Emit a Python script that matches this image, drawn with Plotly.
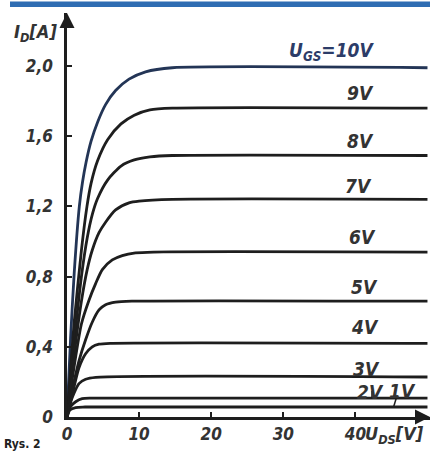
import plotly.graph_objects as go

# ---- data ----
v_10 = [0, 0.5, 1.0, 1.71, 2.16, 2.64, 3.33, 4.24, 5.35, 6.74, 8.6, 10.9, 14.6, 50]
i_10 = [0, 0.45, 0.82, 1.20, 1.34, 1.45, 1.57, 1.68, 1.78, 1.86, 1.925, 1.967, 1.99, 1.99]

v_9 = [0, 0.5, 1.0, 2.0, 2.77, 3.33, 4.24, 5.63, 7.49, 9.33, 11.5, 14.6, 50]
i_9 = [0, 0.28, 0.54, 0.95, 1.20, 1.33, 1.46, 1.58, 1.67, 1.72, 1.75, 1.76, 1.76]

v_8 = [0, 0.5, 1.0, 2.0, 2.8, 3.55, 4.24, 5.63, 7.49, 9.33, 11.5, 14.6, 50]
i_8 = [0, 0.22, 0.43, 0.80, 1.02, 1.16, 1.245, 1.35, 1.43, 1.465, 1.482, 1.49, 1.49]

v_7 = [0, 0.5, 1.0, 2.0, 2.8, 3.5, 4.44, 5.35, 6.74, 8.6, 10, 14.6, 50]
i_7 = [0, 0.18, 0.36, 0.66, 0.84, 0.95, 1.05, 1.11, 1.18, 1.22, 1.23, 1.24, 1.24]

v_6 = [0, 0.5, 1.0, 2.0, 3.0, 3.97, 4.9, 6.28, 7.67, 9.5, 12, 50]
i_6 = [0, 0.15, 0.29, 0.53, 0.66, 0.76, 0.84, 0.895, 0.92, 0.935, 0.94, 0.94]

v_5 = [0, 0.5, 0.97, 1.66, 2.58, 3.5, 4.44, 5.35, 6.74, 9, 50]
i_5 = [0, 0.11, 0.20, 0.32, 0.44, 0.54, 0.61, 0.64, 0.655, 0.66, 0.66]

v_4 = [0, 0.5, 0.97, 1.66, 2.58, 3.5, 4.44, 6, 50]
i_4 = [0, 0.09, 0.17, 0.28, 0.36, 0.40, 0.415, 0.42, 0.42]

v_3 = [0, 0.4, 0.97, 1.66, 2.58, 4.0, 50]
i_3 = [0, 0.07, 0.135, 0.19, 0.215, 0.226, 0.228]

v_2 = [0, 0.5, 1.2, 2.1, 3.5, 50]
i_2 = [0, 0.06, 0.087, 0.105, 0.108, 0.108]

v_1 = [0, 0.4, 1.2, 2.5, 50]
i_1 = [0, 0.04, 0.054, 0.057, 0.057]

series = [
    ("10V", v_10, i_10),
    ("9V", v_9, i_9),
    ("8V", v_8, i_8),
    ("7V", v_7, i_7),
    ("6V", v_6, i_6),
    ("5V", v_5, i_5),
    ("4V", v_4, i_4),
    ("3V", v_3, i_3),
    ("2V", v_2, i_2),
    ("1V", v_1, i_1),
]

x_ticks = [0, 10, 20, 30, 40]
x_ticktext = ["0", "10", "20", "30", "40"]
y_ticks = [0, 0.4, 0.8, 1.2, 1.6, 2.0]
y_ticktext = ["0", "0,4", "0,8", "1,2", "1,6", "2,0"]

label_texts = ["U<sub>GS</sub>=10V", "9V", "8V", "7V", "6V", "5V", "4V", "3V", "2V", "1V"]
label_x = [36.7, 40.7, 40.7, 40.5, 41.0, 41.2, 41.4, 41.6, 42.1, 46.5]
label_y = [2.085, 1.846, 1.573, 1.316, 1.026, 0.741, 0.513, 0.274, 0.142, 0.148]

FONT = "Liberation Sans Narrow, DejaVu Sans Condensed, Liberation Sans, sans-serif"
INK = "#1e1e1e"
TEXT = "#333333"

fig = go.Figure()
for name, xs, ys in series:
    fig.add_trace(go.Scatter(
        x=xs, y=ys, mode="lines", name=name,
        line=dict(color="#233556" if name == "10V" else INK, width=2.8,
                  shape="spline", smoothing=0.7),
        hoverinfo="skip", showlegend=False,
    ))

annotations = []
for t, lx, ly in zip(label_texts, label_x, label_y):
    annotations.append(dict(
        x=lx, y=ly, xref="x", yref="y", text=t, showarrow=False,
        font=dict(family=FONT, size=19, color="#2c3c68" if "GS" in t else TEXT,
                  style="italic", weight="bold"),
    ))

# axis titles (paper coordinates, outside the data range)
annotations.append(dict(x=-0.1515, y=0.985, xref="paper", yref="paper", text="I<sub>D</sub>[A]",
                        showarrow=False, xanchor="left", yanchor="top",
                        font=dict(family=FONT, size=18, color=TEXT, style="italic", weight="bold")))
annotations.append(dict(x=0.815, y=-0.0099, xref="paper", yref="paper", text="U<sub>DS</sub>[V]",
                        showarrow=False, xanchor="left", yanchor="top",
                        font=dict(family=FONT, size=18, color=TEXT, style="italic", weight="bold")))
annotations.append(dict(x=-0.179, y=-0.067, xref="paper", yref="paper", text="Rys. 2",
                        showarrow=False, xanchor="left", yanchor="middle",
                        font=dict(family=FONT, size=12, color="#222222", weight="bold")))

# axis arrowheads
annotations.append(dict(x=50.35, y=0, xref="x", yref="y", ax=-14, ay=0, text="",
                        showarrow=True, arrowhead=2, arrowsize=1.2, arrowwidth=2.5,
                        arrowcolor=INK))
annotations.append(dict(x=0, y=2.302, xref="x", yref="y", ax=0, ay=16, text="",
                        showarrow=True, arrowhead=2, arrowsize=1.2, arrowwidth=2.5,
                        arrowcolor=INK))

shapes = [
    # leader lines for 2V and 1V labels
    dict(type="line", xref="x", yref="y", x0=42.3, y0=0.15, x1=42.3, y1=0.108,
         line=dict(color=INK, width=1.5)),
    dict(type="line", xref="x", yref="y", x0=45.8, y0=0.125, x1=45.3, y1=0.057,
         line=dict(color=INK, width=1.5)),
    # blue border strip at the top of the scan
    dict(type="rect", xref="paper", yref="paper", x0=-0.157, x1=1.0, y0=1.0149, y1=1.0285,
         fillcolor="#2f6db3", line=dict(width=0)),
]

axis_font = dict(family=FONT, size=17, color=TEXT, style="italic", weight="bold")

fig.update_layout(
    width=432, height=455,
    margin=dict(l=67, r=2, t=13, b=38),
    paper_bgcolor="white", plot_bgcolor="white",
    xaxis=dict(range=[0, 50.35], tickvals=x_ticks, ticktext=x_ticktext,
               showgrid=False, zeroline=False, showline=True, linecolor=INK, linewidth=2.5,
               ticks="inside", ticklen=5, tickwidth=1.5, tickcolor=INK,
               tickfont=axis_font, fixedrange=True),
    yaxis=dict(range=[0, 2.302], tickvals=y_ticks, ticktext=y_ticktext,
               showgrid=False, zeroline=False, showline=True, linecolor=INK, linewidth=2.5,
               ticks="inside", ticklen=5, tickwidth=1.5, tickcolor=INK,
               tickfont=axis_font, ticklabelstandoff=8, fixedrange=True),
    annotations=annotations,
    shapes=shapes,
    showlegend=False,
)

fig.write_html(
    "out.html",
    config={"displayModeBar": False},
    post_script="document.body.style.margin='0';document.body.style.overflow='hidden';",
)
